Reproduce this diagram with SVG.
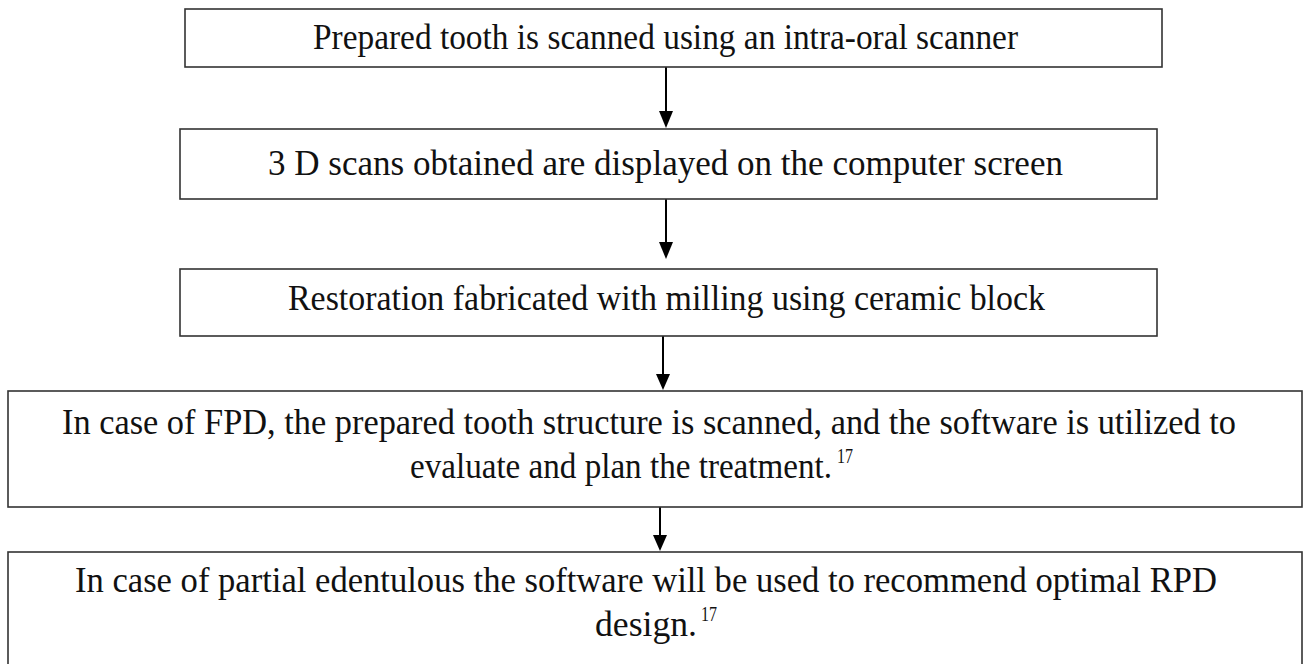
<svg xmlns="http://www.w3.org/2000/svg" width="1304" height="664" viewBox="0 0 1304 664">
<style>
.box{fill:#fff;stroke:#333;stroke-width:1.6}
.conn{stroke:#000;stroke-width:2;fill:none}
.head{fill:#000}
.t{font-family:"Liberation Serif","Times New Roman",serif;font-size:35px;fill:#111}
.s{font-family:"Liberation Serif","Times New Roman",serif;font-size:21px;fill:#111}
</style>
<rect width="1304" height="664" fill="#fff"/>
<g id="connectors">
<line class="conn" x1="666" y1="67" x2="666" y2="111"/>
<path class="head" d="M659,111 L673,111 L666,128 Z"/>
<line class="conn" x1="666" y1="199" x2="666" y2="242"/>
<path class="head" d="M659,242 L673,242 L666,259 Z"/>
<line class="conn" x1="663" y1="336" x2="663" y2="374"/>
<path class="head" d="M656,374 L670,374 L663,390 Z"/>
<line class="conn" x1="660" y1="507" x2="660" y2="535"/>
<path class="head" d="M653,535 L667,535 L660,551 Z"/>
</g>
<g id="node1">
<rect class="box" x="185" y="9" width="977" height="58"/>
<text class="t" x="665.5" y="49" text-anchor="middle" textLength="705" lengthAdjust="spacingAndGlyphs">Prepared tooth is scanned using an intra-oral scanner</text>
</g>
<g id="node2">
<rect class="box" x="180" y="129" width="977" height="70"/>
<text class="t" x="665.5" y="175" text-anchor="middle" textLength="795" lengthAdjust="spacingAndGlyphs">3 D scans obtained are displayed on the computer screen</text>
</g>
<g id="node3">
<rect class="box" x="180" y="269" width="977" height="67"/>
<text class="t" x="666.5" y="310" text-anchor="middle" textLength="757" lengthAdjust="spacingAndGlyphs">Restoration fabricated with milling using ceramic block</text>
</g>
<g id="node4">
<rect class="box" x="8" y="391" width="1294" height="116"/>
<text class="t" x="649" y="434" text-anchor="middle" textLength="1174" lengthAdjust="spacingAndGlyphs">In case of FPD, the prepared tooth structure is scanned, and the software is utilized to</text>
<text class="t" x="410" y="478" textLength="422" lengthAdjust="spacingAndGlyphs">evaluate and plan the treatment.</text>
<text class="s" x="837" y="463" textLength="16" lengthAdjust="spacingAndGlyphs">17</text>
</g>
<g id="node5">
<rect class="box" x="8" y="552" width="1294" height="130"/>
<text class="t" x="646" y="592" text-anchor="middle" textLength="1142" lengthAdjust="spacingAndGlyphs">In case of partial edentulous the software will be used to recommend optimal RPD</text>
<text class="t" x="595" y="636" textLength="102" lengthAdjust="spacingAndGlyphs">design.</text>
<text class="s" x="701" y="621" textLength="16" lengthAdjust="spacingAndGlyphs">17</text>
</g>
</svg>
